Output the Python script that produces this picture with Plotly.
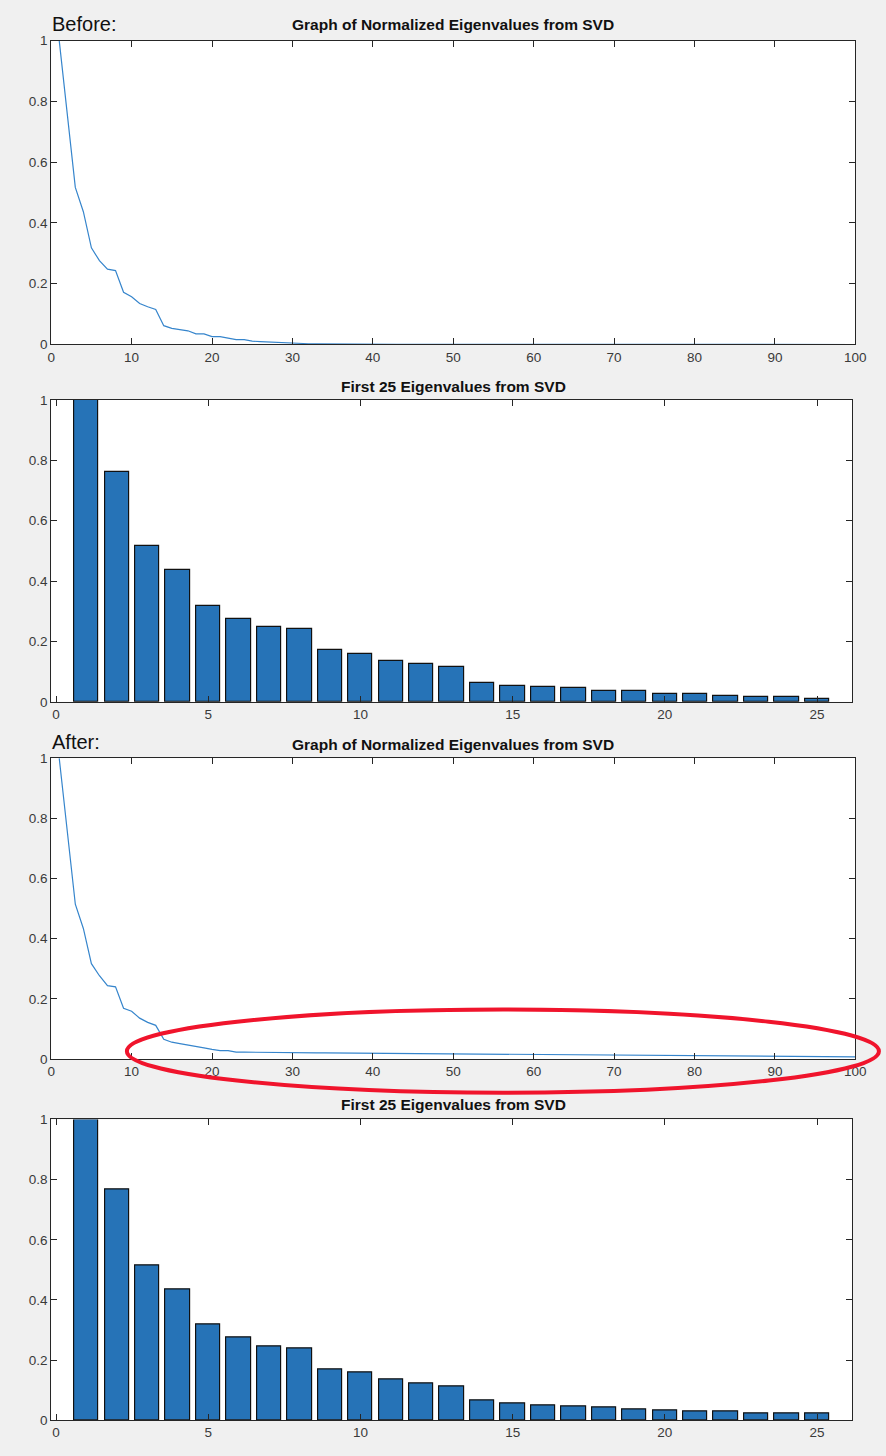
import plotly.graph_objects as go

# ---------------- data ----------------
idx_100 = list(range(1, 101))
idx_25 = list(range(1, 26))

before_bars = [1.0, 0.762, 0.517, 0.437, 0.318, 0.276, 0.248, 0.243, 0.172, 0.157,
               0.135, 0.124, 0.115, 0.062, 0.053, 0.049, 0.045, 0.035, 0.035, 0.026,
               0.026, 0.021, 0.016, 0.016, 0.011]

after_bars = [1.0, 0.766, 0.515, 0.434, 0.317, 0.277, 0.244, 0.240, 0.169, 0.159,
              0.136, 0.122, 0.112, 0.066, 0.056, 0.051, 0.047, 0.042, 0.037, 0.032,
              0.028, 0.028, 0.023, 0.023, 0.023]

before_tail = [0.0095, 0.0080, 0.0066, 0.0053, 0.0041, 0.0032, 0.0025, 0.0019, 0.0015, 0.0012,
               0.0010, 0.0008, 0.0007, 0.0006, 0.0005, 0.0005, 0.0004, 0.0004, 0.0003, 0.0003,
               0.0003, 0.0003, 0.0002, 0.0002, 0.0002, 0.0002, 0.0002, 0.0002, 0.0001, 0.0001,
               0.0001, 0.0001, 0.0001, 0.0001, 0.0001, 0.0001, 0.0001, 0.0001, 0.0001, 0.0001,
               0.0001, 0.0001, 0.0001, 0.0001, 0.0001, 0.0001, 0.0001, 0.0001, 0.0001, 0.0001,
               0.0001, 0.0001, 0.0001, 0.0001, 0.0001, 0.0000, 0.0000, 0.0000, 0.0000, 0.0000,
               0.0000, 0.0000, 0.0000, 0.0000, 0.0000, 0.0000, 0.0000, 0.0000, 0.0000, 0.0000,
               0.0000, 0.0000, 0.0000, 0.0000, 0.0000]

after_tail = [0.0222, 0.0219, 0.0217, 0.0214, 0.0211, 0.0209, 0.0207, 0.0205, 0.0203, 0.0201,
              0.0199, 0.0197, 0.0195, 0.0193, 0.0191, 0.0189, 0.0187, 0.0186, 0.0184, 0.0182,
              0.0180, 0.0179, 0.0177, 0.0175, 0.0173, 0.0171, 0.0170, 0.0168, 0.0166, 0.0164,
              0.0162, 0.0161, 0.0159, 0.0157, 0.0155, 0.0153, 0.0151, 0.0150, 0.0148, 0.0146,
              0.0144, 0.0142, 0.0140, 0.0138, 0.0136, 0.0134, 0.0132, 0.0131, 0.0129, 0.0127,
              0.0125, 0.0123, 0.0121, 0.0120, 0.0118, 0.0116, 0.0114, 0.0112, 0.0110, 0.0108,
              0.0106, 0.0104, 0.0102, 0.0100, 0.0098, 0.0096, 0.0094, 0.0092, 0.0090, 0.0088,
              0.0086, 0.0084, 0.0081, 0.0078, 0.0075]

before_line = before_bars + before_tail
after_line = after_bars + after_tail

line_title = "Graph of Normalized Eigenvalues from SVD"
bar_title = "First 25 Eigenvalues from SVD"
y_ticks = [0, 0.2, 0.4, 0.6, 0.8, 1]
y_ticktext = ["0", "0.2", "0.4", "0.6", "0.8", "1"]
line_xticks = list(range(0, 101, 10))
bar_xticks = [0, 5, 10, 15, 20, 25]

# ---------------- style ----------------
W, H = 886, 1456
BG = "#f0f0f0"
AX = "#262626"
LINE_C = "#3685cc"
BAR_C = "#2673b7"
FONT = "Liberation Sans, Arial, Helvetica, sans-serif"

def px_x(p):
    return p / W

def px_y(p):
    return 1 - p / H

panels = [
    # (top, bottom, left, right)
    (34, 341, 48, 866),
    (397, 702, 48, 863),
    (759, 1063, 48, 866),
    (1124, 1428, 48, 863),
]

fig = go.Figure()

fig.add_trace(go.Scatter(x=idx_100, y=before_line, mode="lines",
                         line=dict(color=LINE_C, width=1.2), xaxis="x", yaxis="y",
                         showlegend=False))
fig.add_trace(go.Bar(x=idx_25, y=before_bars, width=0.8,
                     marker=dict(color=BAR_C, line=dict(color="#111111", width=1.2)),
                     xaxis="x2", yaxis="y2", showlegend=False))
fig.add_trace(go.Scatter(x=idx_100, y=after_line, mode="lines",
                         line=dict(color=LINE_C, width=1.2), xaxis="x3", yaxis="y3",
                         showlegend=False))
fig.add_trace(go.Bar(x=idx_25, y=after_bars, width=0.8,
                     marker=dict(color=BAR_C, line=dict(color="#111111", width=1.2)),
                     xaxis="x4", yaxis="y4", showlegend=False))

layout = dict(
    width=W, height=H,
    margin=dict(l=0, r=0, t=0, b=0),
    paper_bgcolor=BG, plot_bgcolor="white",
    font=dict(family=FONT, color=AX, size=13.5),
    bargap=0,
)

common_axis = dict(showgrid=False, zeroline=False, showline=True, mirror="allticks",
                   linecolor=AX, linewidth=1, ticks="inside", ticklen=6, tickwidth=1,
                   tickcolor=AX, tickfont=dict(family=FONT, size=13.5, color="#3a3a3a"),
                   fixedrange=True)

for i, (top, bot, left, right) in enumerate(panels, start=1):
    sfx = "" if i == 1 else str(i)
    is_line = i in (1, 3)
    xa = dict(common_axis)
    xa.update(domain=[px_x(left), px_x(right)], anchor="y" + sfx)
    if is_line:
        xa.update(range=[0, 100], tickvals=line_xticks,
                  ticktext=[str(v) for v in line_xticks])
    else:
        xa.update(range=[-0.16, 26.16], tickvals=bar_xticks,
                  ticktext=[str(v) for v in bar_xticks])
    ya = dict(common_axis)
    ya.update(domain=[px_y(bot), px_y(top)], anchor="x" + sfx, range=[0, 1],
              tickvals=y_ticks, ticktext=y_ticktext)
    layout["xaxis" + sfx] = xa
    layout["yaxis" + sfx] = ya

annotations = []
title_y = [18, 383, 745, 1109]
for i, ty in enumerate(title_y):
    txt = line_title if i in (0, 2) else bar_title
    annotations.append(dict(text="<b>%s</b>" % txt, x=px_x(457), y=px_y(ty),
                            xref="paper", yref="paper", xanchor="center", yanchor="middle",
                            showarrow=False, font=dict(family=FONT, size=15.5, color="#111111")))
annotations.append(dict(text="Before:", x=px_x(47), y=px_y(17), xref="paper", yref="paper",
                        xanchor="left", yanchor="middle", showarrow=False,
                        font=dict(family=FONT, size=20, color="#111111")))
annotations.append(dict(text="After:", x=px_x(47), y=px_y(743), xref="paper", yref="paper",
                        xanchor="left", yanchor="middle", showarrow=False,
                        font=dict(family=FONT, size=20, color="#111111")))
layout["annotations"] = annotations

layout["shapes"] = [dict(type="circle", xref="paper", yref="paper",
                         x0=px_x(125), x1=px_x(890), y0=px_y(1097), y1=px_y(1013),
                         line=dict(color="#f0142c", width=4), layer="above")]

fig.update_layout(**layout)
fig.write_html("out.html", config={"displayModeBar": False},
               post_script="document.body.style.margin='0';document.body.style.overflow='hidden';")
